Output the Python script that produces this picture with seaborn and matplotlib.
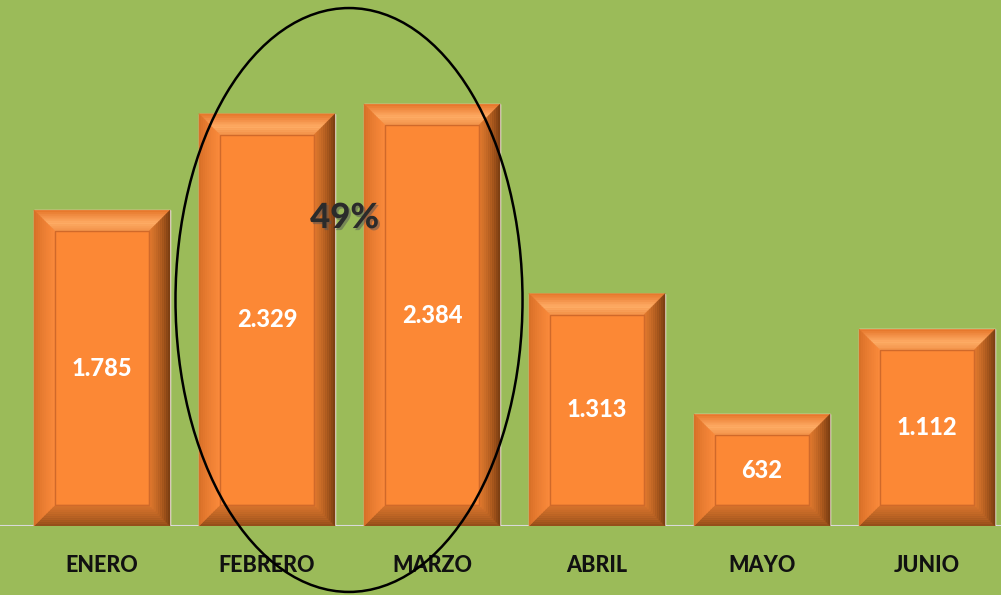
import numpy as np
import matplotlib
matplotlib.use("Agg")
import matplotlib.pyplot as plt
import matplotlib.patheffects as pe
from matplotlib.patches import Polygon, Ellipse, Rectangle
from matplotlib.transforms import IdentityTransform
from matplotlib.colors import to_rgb
import seaborn as sns

# Monthly totals
months = ["ENERO", "FEBRERO", "MARZO", "ABRIL", "MAYO", "JUNIO"]
values = [1785, 2329, 2384, 1313, 632, 1112]
highlight_text = "49%"

BG = "#9BBB59"
ORANGE = "#FC8835"

sns.set_theme(style="white")
plt.rcParams["font.family"] = ["Lato", "DejaVu Sans"]

fig = plt.figure(figsize=(10.01, 5.95), dpi=100, facecolor=BG)
ax = fig.add_axes([0, 69 / 595, 1, 526 / 595])
ax.set_facecolor(BG)

sns.barplot(x=months, y=values, color=ORANGE, saturation=1, width=0.825,
            ax=ax, zorder=2)

ax.set_xlim(-0.618, 5.448)
ax.set_ylim(0, 2972)
for s in ax.spines.values():
    s.set_visible(False)
ax.set_yticks([])
ax.set_ylabel("")
ax.set_xlabel("")
ax.tick_params(axis="x", length=0, pad=21)
for lbl in ax.get_xticklabels():
    lbl.set_fontweight(900)
    lbl.set_fontsize(15.5)
    lbl.set_color("#111111")

ax.axhline(0, color="#D9D9D9", lw=1.5, zorder=1)

fig.canvas.draw()


def mix(c1, c2, t):
    a, b = np.array(to_rgb(c1)), np.array(to_rgb(c2))
    return tuple(a + (b - a) * t)


# Bevel frame drawn around each bar, in pixel units
bev = 21
steps = 10
side_colors = {
    "top": ("#E57428", "#FFAE68"),
    "left": ("#D66E26", "#FA8A3C"),
    "right": ("#73390F", "#E27A2E"),
    "bottom": ("#8E4A18", "#D8742C"),
}
for p in ax.patches[:len(values)]:
    bb = p.get_window_extent()
    x0, y0, x1, y1 = bb.x0, bb.y0, bb.x1, bb.y1
    for k in range(steps):
        d1 = bev * k / steps
        d2 = bev * (k + 1) / steps
        t = (k + 0.5) / steps
        polys = {
            "top": [(x0 + d1, y1 - d1), (x1 - d1, y1 - d1), (x1 - d2, y1 - d2), (x0 + d2, y1 - d2)],
            "bottom": [(x0 + d1, y0 + d1), (x1 - d1, y0 + d1), (x1 - d2, y0 + d2), (x0 + d2, y0 + d2)],
            "left": [(x0 + d1, y0 + d1), (x0 + d2, y0 + d2), (x0 + d2, y1 - d2), (x0 + d1, y1 - d1)],
            "right": [(x1 - d1, y0 + d1), (x1 - d2, y0 + d2), (x1 - d2, y1 - d2), (x1 - d1, y1 - d1)],
        }
        for side, pts in polys.items():
            c_out, c_in = side_colors[side]
            if side == "top":
                # highlight peaks in the middle of the top bevel
                tt = min(1.0, t * 1.6) if t < 0.6 else 1 - (t - 0.6) * 1.2
                col = mix(c_out, c_in, tt)
            else:
                col = mix(c_out, c_in, t ** 0.8)
            ax.add_patch(Polygon(pts, closed=True, facecolor=col, edgecolor=col,
                                 lw=0.3, transform=IdentityTransform(), zorder=3))
    ax.add_patch(Rectangle((x0 + bev, y0 + bev), (x1 - x0) - 2 * bev, (y1 - y0) - 2 * bev,
                           facecolor="none", edgecolor="#D0692A", lw=1.0,
                           transform=IdentityTransform(), zorder=3.5))

labels = [f"{v:,}".replace(",", ".") for v in values]
bars = ax.containers[0]
ax.bar_label(bars, labels=labels, label_type="center", color="white",
             fontsize=17, fontweight=900, zorder=5)

# Highlight of the first-quarter peak
ell = Ellipse((1.497, 1277), width=2.103, height=3299, facecolor="none",
              edgecolor="black", lw=1.8, zorder=6, clip_on=False)
ax.add_patch(ell)

ax.text(1.47, 1740, highlight_text, ha="center", va="center", fontsize=25,
        fontweight=900, color="#2B2B2B", zorder=7,
        path_effects=[pe.withSimplePatchShadow(offset=(1.5, -1.5),
                                               shadow_rgbFace="#555555", alpha=0.5)])

fig.savefig("out.png", dpi=100, facecolor=BG)
